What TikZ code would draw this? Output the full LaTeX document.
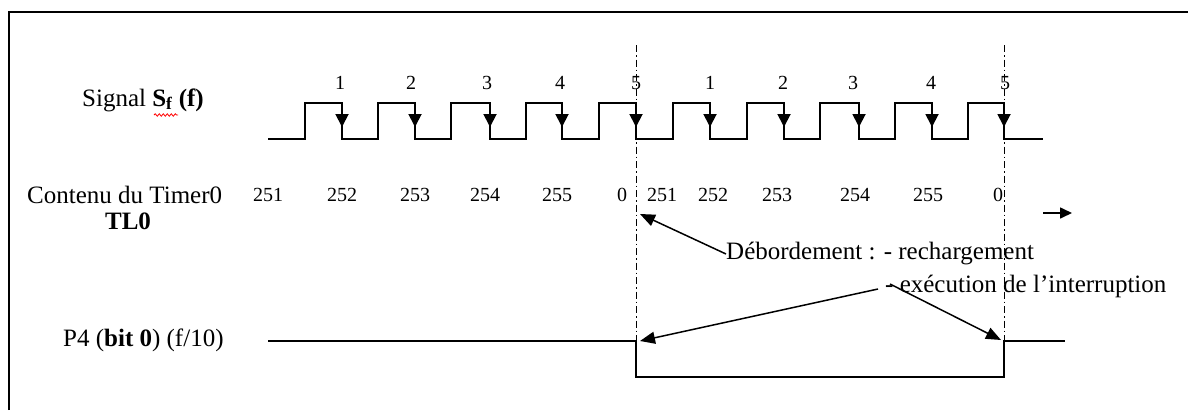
\documentclass[tikz,border=0pt]{standalone}
\usepackage{fontspec}
\setmainfont{Liberation Serif}
\usetikzlibrary{arrows.meta,decorations.pathmorphing}
\begin{document}
\begin{tikzpicture}[x=1pt,y=-1pt,
  frameline/.style={line width=2pt},
  wave/.style={line width=1.9pt},
  fallarrow/.style={line width=1.9pt,-{Triangle[length=13pt,width=13pt]}},
  guide/.style={line width=1pt,dash pattern=on 7pt off 3pt on 1.5pt off 3pt},
  pointer/.style={line width=1.5pt,-{Triangle[length=15pt,width=12pt]}},
  lbl/.style={inner sep=0pt,font=\fontsize{25}{29}\selectfont},
  num/.style={inner sep=0pt,font=\fontsize{20}{24}\selectfont}]
\useasboundingbox (0,0) rectangle (1188,410);
% frame (open on right and bottom)
\draw[frameline] (9,410) -- (9,12) -- (1188,12);
% labels
\node[lbl,anchor=west] (sig) at (82,100) {Signal \textbf{S\textsubscript{f}} \textbf{(f)}};
\draw[red,line width=0.8pt,decorate,decoration={snake,amplitude=1.2pt,segment length=4pt}] (154,115) -- (178,115);
\node[lbl,anchor=west] (cont) at (27,195) {Contenu du Timer0};
\node[lbl] (tl) at (128,221) {\textbf{TL0}};
\node[lbl,anchor=west] (p4) at (63,340) {P4 (\textbf{bit 0}) (f/10)};
% signal waveform
\draw[wave] (268,139) -| (305,103) -| (342,139) -| (378,103) -| (415,139) -| (451,103) -| (490,139) -| (526,103) -| (562,139) -| (599,103) -| (636,139) -| (673,103) -| (710,139) -| (747,103) -| (784,139) -| (820,103) -| (859,139) -| (895,103) -| (932,139) -| (968,103) -| (1004,139) -- (1043,139);
\foreach \x in {342,415,490,562,636,710,784,859,932,1004}
  \draw[fallarrow] (\x,103) -- (\x,127);
% pulse counts
\foreach \x/\n [count=\i] in {340/1,411/2,487/3,560/4,636/5,710/1,783/2,853/3,931/4,1005/5}
  \node[num] (c\i) at (\x,83) {\n};
% timer contents
\foreach \x/\n [count=\i] in {268/251,342/252,415/253,485/254,557/255,622/0,662/251,713/252,777/253,855/254,928/255,998/0}
  \node[num] (t\i) at (\x,195) {\n};
% time arrow
\coordinate (ta) at (1043,213);
\coordinate (tb) at (1072,213);
\draw[line width=1.6pt,-{Triangle[length=12pt,width=11pt]}] (ta) -- (tb);
% P4 output
\draw[wave] (268,341) -- (636,341) -- (636,377) -- (1004,377) -- (1004,341) -- (1065,341);
% guide lines
\coordinate (g1t) at (636,45);
\coordinate (g1b) at (636,341);
\coordinate (g2t) at (1004,45);
\coordinate (g2b) at (1004,341);
\draw[guide] (g1t) -- (g1b);
\draw[guide] (g2t) -- (g2b);
% annotation
\node[lbl,anchor=west] (deb) at (726,254) {Débordement : - rechargement};
\node[lbl,anchor=west] (exe) at (885,286) {- exécution de l’interruption};
\coordinate (d1) at (640,214);
\coordinate (e0) at (878,289);
\coordinate (e1) at (640,341);
\coordinate (e2) at (1001,340);
\coordinate (e3) at (890,284);
\draw[pointer] (deb.west) -- (d1);
\draw[pointer] (e0) -- (e1);
\draw[pointer] (e3) -- (e2);
\end{tikzpicture}
\end{document}
